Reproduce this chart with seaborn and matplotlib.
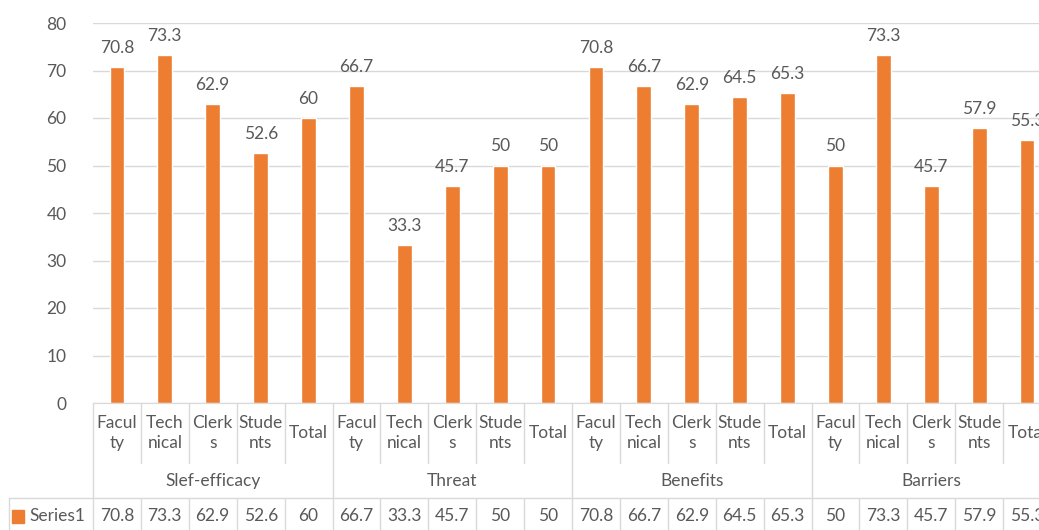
import numpy as np
import pandas as pd
import matplotlib
matplotlib.use("Agg")
import matplotlib.pyplot as plt
import matplotlib.transforms as mtransforms
from matplotlib.lines import Line2D
from matplotlib.patches import Rectangle
import seaborn as sns

# dados do grafico
grupos = ["Slef-efficacy", "Threat", "Benefits", "Barriers"]
categorias = ["Faculty", "Technical", "Clerks", "Students", "Total"]
rotulos_cat = ["Facul\nty", "Tech\nnical", "Clerk\ns", "Stude\nnts", "Total"]
valores = [
    [70.8, 73.3, 62.9, 52.6, 60],
    [66.7, 33.3, 45.7, 50, 50],
    [70.8, 66.7, 62.9, 64.5, 65.3],
    [50, 73.3, 45.7, 57.9, 55.3],
]
serie = "Series1"

LARANJA = "#ED7D31"
CINZA_TXT = "#595959"
CINZA_LIN = "#D9D9D9"
FS = 12.5

linhas = []
for g, vals in zip(grupos, valores):
    for c, v in zip(categorias, vals):
        linhas.append({"chave": g + "|" + c, "grupo": g, "cat": c, "valor": v})
df = pd.DataFrame(linhas)

sns.set_style("white")
plt.rcParams["font.family"] = ["Lato", "DejaVu Sans"]

W, H = 1039, 530
fig = plt.figure(figsize=(W / 100, H / 100), dpi=100)

def fx(px):
    return px / W

def fy(py):
    return 1 - py / H

# area do grafico (a direita passa da borda, como no original recortado)
esq, dir_, topo, base = 93, 1051, 23, 403
ax = fig.add_axes([fx(esq), fy(base), fx(dir_ - esq), fy(topo) - fy(base)])

sns.barplot(data=df, x="chave", y="valor", order=list(df["chave"]),
            color=LARANJA, saturation=1, width=0.31, ax=ax)

ax.set_ylim(0, 80)
ax.set_xlim(-0.5, len(df) - 0.5)
ax.set_yticks(range(0, 81, 10))
ax.set_xticks([])
ax.set_xlabel("")
ax.set_ylabel("")
ax.tick_params(axis="y", length=0, pad=19, labelsize=FS, labelcolor=CINZA_TXT)
ax.grid(axis="y", color=CINZA_LIN, linewidth=1)
ax.set_axisbelow(True)
for lado in ["top", "right", "left"]:
    ax.spines[lado].set_visible(False)
ax.spines["bottom"].set_color(CINZA_LIN)

for i, v in enumerate(df["valor"]):
    ax.annotate(f"{v:g}", (i, v), xytext=(0, 8), textcoords="offset points",
                ha="center", va="bottom", fontsize=FS, color=CINZA_TXT)

# tabela de dados embaixo
tr = mtransforms.blended_transform_factory(ax.transData, fig.transFigure)
n = len(df)

def linha(xs, ys, t=tr):
    fig.add_artist(Line2D(xs, ys, transform=t, color=CINZA_LIN, linewidth=1,
                          clip_on=False))

for k in range(n + 1):
    xb = k - 0.5
    if k % 5 == 0:
        linha([xb, xb], [fy(403), fy(530)])
    else:
        linha([xb, xb], [fy(403), fy(463)])
        linha([xb, xb], [fy(498), fy(530)])

# linha horizontal da serie e borda esquerda
linha([fx(9), 1.2], [fy(498), fy(498)], t=fig.transFigure)
linha([fx(9), fx(9)], [fy(498), fy(530)], t=fig.transFigure)

for i, r in enumerate(rotulos_cat * len(grupos)):
    fig.text(0, 0, r, transform=tr, fontsize=FS, color=CINZA_TXT,
             ha="center", va="center", linespacing=1.3)
    fig.texts[-1].set_position((i, fy(433)))

for j, g in enumerate(grupos):
    fig.text(0, 0, g, transform=tr, fontsize=FS, color=CINZA_TXT,
             ha="center", va="center")
    fig.texts[-1].set_position((j * 5 + 2, fy(481)))

for i, v in enumerate(df["valor"]):
    fig.text(0, 0, f"{v:g}", transform=tr, fontsize=FS, color=CINZA_TXT,
             ha="center", va="center")
    fig.texts[-1].set_position((i, fy(516)))

fig.add_artist(Rectangle((fx(12), fy(523)), fx(12), fy(510) - fy(523),
                         transform=fig.transFigure, color=LARANJA))
fig.text(fx(29), fy(516), serie, fontsize=FS, color=CINZA_TXT,
         ha="left", va="center")

fig.savefig("out.png", dpi=100, facecolor="white")
